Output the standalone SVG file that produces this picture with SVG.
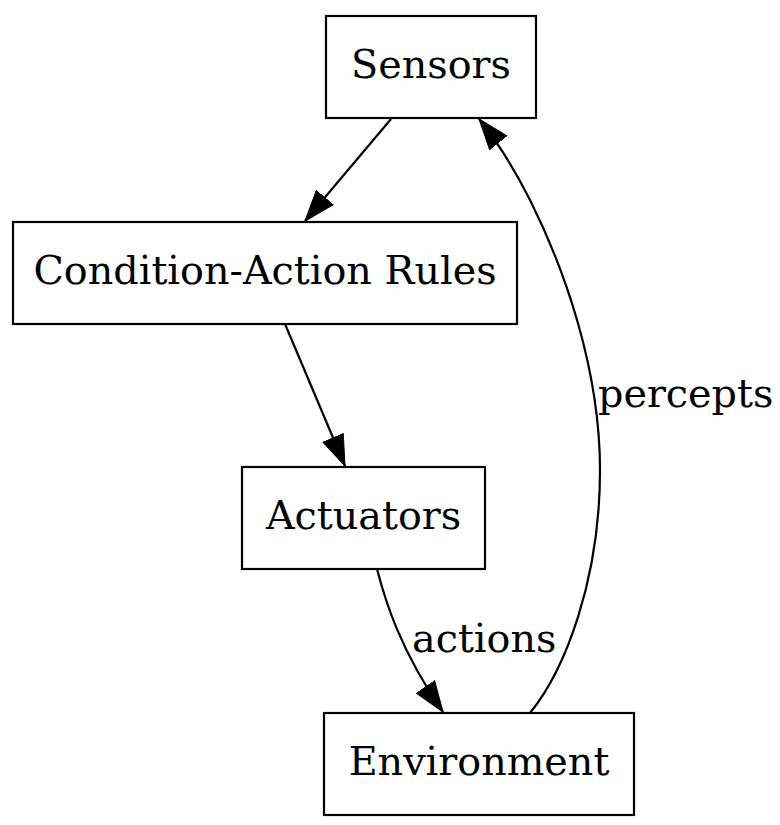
<svg xmlns="http://www.w3.org/2000/svg" width="780" height="825" viewBox="0 0 780 825">
<style>
.box{fill:#fff;stroke:#000;stroke-width:2.2}
.lbl{font-family:"DejaVu Serif",serif;font-size:39.7px;fill:#000;text-anchor:middle}
.elbl{font-family:"DejaVu Serif",serif;font-size:39.7px;fill:#000;text-anchor:start}
.edge{fill:none;stroke:#000;stroke-width:2.2}
</style>
<defs>
<marker id="ah" markerUnits="userSpaceOnUse" markerWidth="32" markerHeight="24" viewBox="0 0 32 24" refX="31" refY="12" orient="auto">
<path d="M0.5,1 L31,12 L0.5,23 z" fill="#000" stroke="#000" stroke-width="1"/>
</marker>
</defs>
<rect width="780" height="825" fill="#fff"/>
<g id="edges">
<path class="edge" d="M391,119 L305,221" marker-end="url(#ah)"/>
<path class="edge" d="M285,324 L345,466" marker-end="url(#ah)"/>
<path class="edge" d="M377,569 C385,600 400,650 443,712" marker-end="url(#ah)"/>
<path class="edge" d="M530,713 C565,670 600,580 600,470 C600,370 565,270 530,200 C515,170 500,145 479,119" marker-end="url(#ah)"/>
<text class="elbl" x="412" y="652">actions</text>
<text class="elbl" x="598" y="407">percepts</text>
</g>
<g id="sensors">
<rect class="box" x="326" y="16" width="210" height="102"/>
<text class="lbl" x="431" y="78">Sensors</text>
</g>
<g id="rules">
<rect class="box" x="13" y="222" width="504" height="102"/>
<text class="lbl" x="265" y="284">Condition-Action Rules</text>
</g>
<g id="actuators">
<rect class="box" x="242" y="467" width="243" height="102"/>
<text class="lbl" x="363.5" y="529">Actuators</text>
</g>
<g id="environment">
<rect class="box" x="324" y="713" width="310" height="102"/>
<text class="lbl" x="479" y="775">Environment</text>
</g>
</svg>
